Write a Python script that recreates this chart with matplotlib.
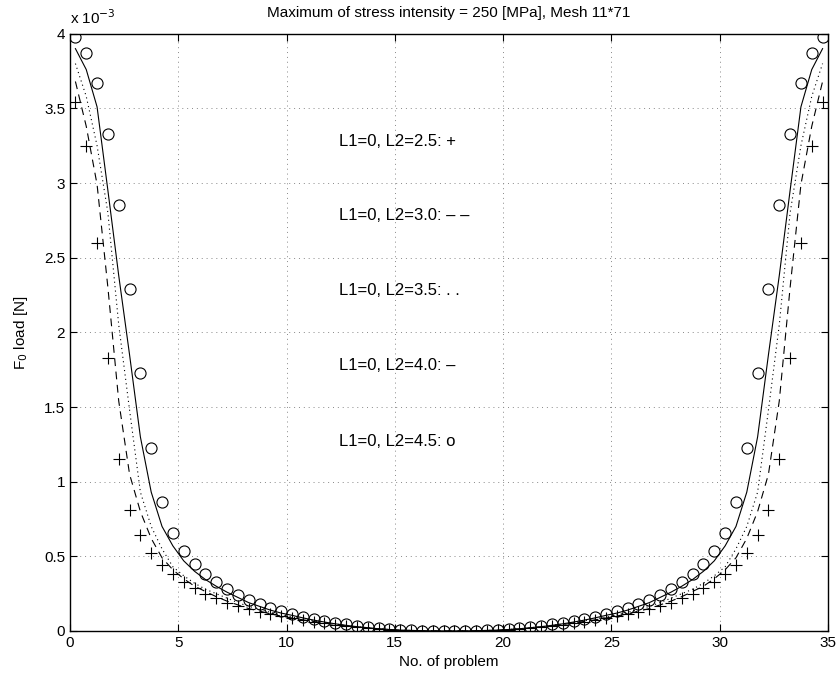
import numpy as np
import matplotlib
matplotlib.use('Agg')
import matplotlib.pyplot as plt
from matplotlib.ticker import FuncFormatter

plt.rcParams['font.family'] = ['Liberation Sans', 'DejaVu Sans']

# problem numbers (70 problems, plotted at half-unit spacing)
x = [0.25 + 0.5 * i for i in range(70)]

# F0 load values in units of 1e-3 N
l25 = [3.54, 3.25, 2.60, 1.83, 1.15, 0.81, 0.64, 0.52, 0.44, 0.38,
       0.33, 0.29, 0.25, 0.22, 0.19, 0.17, 0.145, 0.129, 0.112, 0.098,
       0.087, 0.075, 0.063, 0.052, 0.042, 0.033, 0.025, 0.018, 0.012, 0.008,
       0.005, 0.003, 0.0015, 0.0007, 0.0003,
       0.0003, 0.0007, 0.0015, 0.003, 0.005, 0.008, 0.012, 0.018, 0.025, 0.033,
       0.042, 0.052, 0.063, 0.075, 0.087, 0.098, 0.112, 0.129, 0.145, 0.17,
       0.19, 0.22, 0.25, 0.29, 0.33, 0.38, 0.44, 0.52, 0.64, 0.81,
       1.15, 1.83, 2.60, 3.25, 3.54]

l30 = [3.68, 3.38, 2.99, 2.30, 1.54, 1.05, 0.80, 0.62, 0.49, 0.41,
       0.35, 0.30, 0.265, 0.23, 0.20, 0.175, 0.15, 0.133, 0.115, 0.10,
       0.087, 0.075, 0.064, 0.053, 0.043, 0.034, 0.026, 0.019, 0.013, 0.009,
       0.005, 0.003, 0.0015, 0.0007, 0.0003,
       0.0003, 0.0007, 0.0015, 0.003, 0.005, 0.009, 0.013, 0.019, 0.026, 0.034,
       0.043, 0.053, 0.064, 0.075, 0.087, 0.10, 0.115, 0.133, 0.15, 0.175,
       0.20, 0.23, 0.265, 0.30, 0.35, 0.41, 0.49, 0.62, 0.80, 1.05,
       1.54, 2.30, 2.99, 3.38, 3.68]

l35 = [3.80, 3.58, 3.25, 2.80, 2.05, 1.48, 0.93, 0.70, 0.55, 0.43,
       0.37, 0.32, 0.28, 0.25, 0.22, 0.19, 0.165, 0.145, 0.125, 0.108,
       0.094, 0.081, 0.069, 0.057, 0.047, 0.037, 0.029, 0.021, 0.015, 0.010,
       0.006, 0.0035, 0.002, 0.0009, 0.0004,
       0.0004, 0.0009, 0.002, 0.0035, 0.006, 0.010, 0.015, 0.021, 0.029, 0.037,
       0.047, 0.057, 0.069, 0.081, 0.094, 0.108, 0.125, 0.145, 0.165, 0.19,
       0.22, 0.25, 0.28, 0.32, 0.37, 0.43, 0.55, 0.70, 0.93, 1.48,
       2.05, 2.80, 3.25, 3.58, 3.80]

l40 = [3.90, 3.76, 3.51, 2.95, 2.38, 1.85, 1.30, 0.93, 0.70, 0.57,
       0.47, 0.40, 0.345, 0.30, 0.26, 0.225, 0.19, 0.165, 0.14, 0.12,
       0.105, 0.088, 0.073, 0.06, 0.048, 0.038, 0.029, 0.022, 0.015, 0.010,
       0.006, 0.004, 0.002, 0.001, 0.0005,
       0.0005, 0.001, 0.002, 0.004, 0.006, 0.010, 0.015, 0.022, 0.029, 0.038,
       0.048, 0.06, 0.073, 0.088, 0.105, 0.12, 0.14, 0.165, 0.19, 0.225,
       0.26, 0.30, 0.345, 0.40, 0.47, 0.57, 0.70, 0.93, 1.30, 1.85,
       2.38, 2.95, 3.51, 3.76, 3.90]

l45 = [3.98, 3.87, 3.67, 3.33, 2.85, 2.29, 1.73, 1.226, 0.863, 0.658,
       0.533, 0.45, 0.381, 0.326, 0.279, 0.241, 0.207, 0.181, 0.154, 0.136,
       0.115, 0.097, 0.082, 0.068, 0.055, 0.044, 0.035, 0.027, 0.02, 0.014,
       0.009, 0.006, 0.003, 0.0015, 0.0005,
       0.0005, 0.0015, 0.003, 0.006, 0.009, 0.014, 0.02, 0.027, 0.035, 0.044,
       0.055, 0.068, 0.082, 0.097, 0.115, 0.136, 0.154, 0.181, 0.207, 0.241,
       0.279, 0.326, 0.381, 0.45, 0.533, 0.658, 0.863, 1.226, 1.73, 2.29,
       2.85, 3.33, 3.67, 3.87, 3.98]

labels = ['L1=0, L2=2.5: +', 'L1=0, L2=3.0: \u2013 \u2013', 'L1=0, L2=3.5: . .',
          'L1=0, L2=4.0: \u2013', 'L1=0, L2=4.5: o']
label_y = [3.28, 2.78, 2.28, 1.775, 1.27]

scale = 1e-3

fig = plt.figure(figsize=(8.4, 6.77), dpi=100)
ax = fig.add_axes([70 / 840, 1 - 631 / 677, 758 / 840, 597.3 / 677])

ax.plot(x, np.array(l25) * scale, '+', color='black', ms=8, mew=0.8, ls='none')
ax.plot(x, np.array(l30) * scale, color='black', lw=0.8, ls=(0, (7, 5)))
ax.plot(x, np.array(l35) * scale, color='black', lw=0.8, ls=(0, (1, 3)))
ax.plot(x, np.array(l40) * scale, color='black', lw=0.8, ls='-')
ax.plot(x, np.array(l45) * scale, 'o', color='black', mfc='none', ms=8, mew=0.8, ls='none')

for lab, yy in zip(labels, label_y):
    ax.text(12.4, yy * scale, lab, fontsize=12, va='center', ha='left')

ax.set_xlim(0, 35)
ax.set_ylim(0, 4e-3)
ax.set_xticks(np.arange(0, 36, 5))
ax.set_yticks(np.arange(0, 4.01, 0.5) * scale)
ax.yaxis.set_major_formatter(FuncFormatter(lambda v, p: '%g' % round(v / scale, 3)))
ax.tick_params(direction='in', length=5, width=0.8, labelsize=11, top=True, right=True,
               labeltop=False, labelright=False)
ax.grid(True, ls=(0, (1, 4)), color='#888888', lw=0.7)
for s in ax.spines.values():
    s.set_linewidth(1.0)

ax.text(0.0, 1.012, r'x 10$^{-3}$', transform=ax.transAxes, fontsize=11, ha='left', va='bottom')
ax.set_title('Maximum of stress intensity = 250 [MPa], Mesh 11*71', fontsize=11, pad=12)
ax.set_xlabel('No. of problem', fontsize=11, labelpad=4)
ax.set_ylabel(r'F$_0$ load [N]', fontsize=11, labelpad=10)

fig.savefig('out.png', dpi=100)
